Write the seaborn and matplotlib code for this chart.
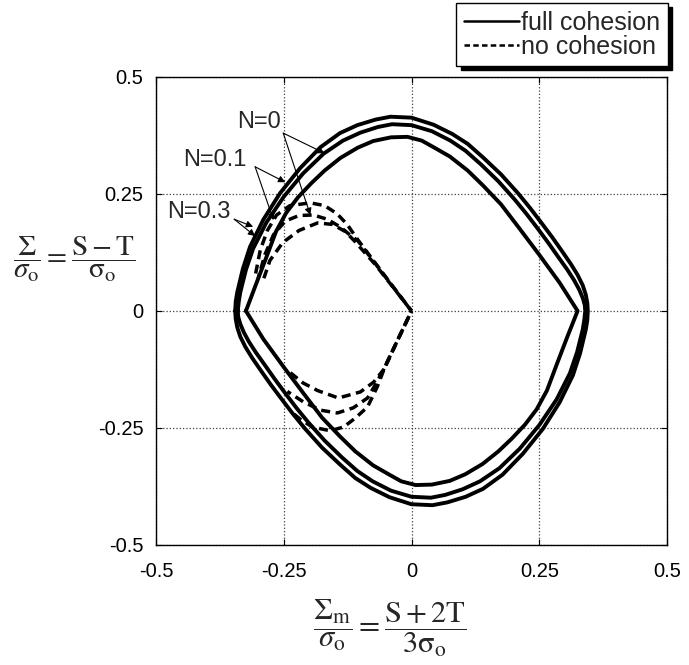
import pandas as pd
import seaborn as sns
import matplotlib.pyplot as plt
from matplotlib.lines import Line2D

# full cohesion yield curves (closed), x = Sigma_m/sigma_o, y = Sigma/sigma_o
n03_x = [-0.345, -0.344, -0.341, -0.330, -0.316, -0.290, -0.257, -0.218, -0.178, -0.140, -0.106, -0.070, -0.041,
         0.000, 0.043, 0.080, 0.110, 0.140, 0.175, 0.208, 0.232, 0.253, 0.275, 0.295, 0.312, 0.325, 0.335,
         0.341, 0.344, 0.345,
         0.344, 0.341, 0.330, 0.316, 0.290, 0.257, 0.218, 0.178, 0.140, 0.106, 0.070, 0.041,
         0.000, -0.043, -0.080, -0.110, -0.140, -0.175, -0.208, -0.232, -0.253, -0.275, -0.295, -0.312, -0.325,
         -0.335, -0.341, -0.344, -0.345]
n03_y = [0.000, 0.020, 0.040, 0.090, 0.137, 0.195, 0.252, 0.305, 0.350, 0.380, 0.397, 0.409, 0.415,
         0.413, 0.398, 0.378, 0.357, 0.328, 0.292, 0.252, 0.220, 0.190, 0.158, 0.127, 0.100, 0.077, 0.055,
         0.035, 0.017, 0.000,
         -0.020, -0.040, -0.090, -0.137, -0.195, -0.252, -0.305, -0.350, -0.380, -0.397, -0.409, -0.415,
         -0.413, -0.398, -0.378, -0.357, -0.328, -0.292, -0.252, -0.220, -0.190, -0.158, -0.127, -0.100, -0.077,
         -0.055, -0.035, -0.017, 0.000]

n01_x = [-0.340, -0.338, -0.335, -0.324, -0.310, -0.284, -0.250, -0.212, -0.172, -0.134, -0.100, -0.066, -0.038,
         0.000, 0.040, 0.076, 0.106, 0.136, 0.170, 0.202, 0.226, 0.247, 0.268, 0.288, 0.305, 0.318, 0.328,
         0.335, 0.339, 0.340,
         0.338, 0.335, 0.324, 0.310, 0.284, 0.250, 0.212, 0.172, 0.134, 0.100, 0.066, 0.038,
         0.000, -0.040, -0.076, -0.106, -0.136, -0.170, -0.202, -0.226, -0.247, -0.268, -0.288, -0.305, -0.318,
         -0.328, -0.335, -0.339, -0.340]
n01_y = [0.000, 0.020, 0.040, 0.088, 0.133, 0.189, 0.244, 0.294, 0.336, 0.364, 0.381, 0.393, 0.399,
         0.397, 0.384, 0.364, 0.342, 0.313, 0.277, 0.238, 0.206, 0.176, 0.145, 0.114, 0.088, 0.066, 0.046,
         0.028, 0.013, 0.000,
         -0.020, -0.040, -0.088, -0.133, -0.189, -0.244, -0.294, -0.336, -0.364, -0.381, -0.393, -0.399,
         -0.397, -0.384, -0.364, -0.342, -0.313, -0.277, -0.238, -0.206, -0.176, -0.145, -0.114, -0.088, -0.066,
         -0.046, -0.028, -0.013, 0.000]

n0_x = [-0.324, -0.305, -0.285, -0.265, -0.245, -0.222, -0.196, -0.170, -0.139, -0.105, -0.075, -0.040,
        -0.008, 0.020, 0.043, 0.075, 0.110, 0.140, 0.175, 0.210, 0.250, 0.290, 0.325,
        0.305, 0.285, 0.265, 0.245, 0.222, 0.196, 0.170, 0.139, 0.105, 0.075, 0.040,
        0.008, -0.020, -0.043, -0.075, -0.110, -0.140, -0.175, -0.210, -0.250, -0.290, -0.324]
n0_y = [0.000, 0.055, 0.112, 0.170, 0.210, 0.243, 0.273, 0.300, 0.327, 0.349, 0.363, 0.371,
        0.372, 0.364, 0.350, 0.330, 0.300, 0.268, 0.228, 0.178, 0.120, 0.060, 0.000,
        -0.055, -0.112, -0.170, -0.210, -0.243, -0.273, -0.300, -0.327, -0.349, -0.363, -0.371,
        -0.372, -0.364, -0.350, -0.330, -0.300, -0.268, -0.228, -0.178, -0.120, -0.060, 0.000]

# no cohesion curves (upper and lower branches ending at the origin)
nc03_up_x = [-0.305, -0.296, -0.282, -0.264, -0.238, -0.198, -0.170, -0.146, -0.126, -0.105, -0.070, -0.035, 0.0]
nc03_up_y = [0.080, 0.130, 0.172, 0.205, 0.225, 0.231, 0.225, 0.208, 0.185, 0.152, 0.101, 0.050, 0.0]
nc01_up_x = [-0.300, -0.287, -0.270, -0.247, -0.220, -0.192, -0.165, -0.140, -0.120, -0.105, -0.070, -0.035, 0.0]
nc01_up_y = [0.070, 0.120, 0.163, 0.192, 0.204, 0.205, 0.196, 0.180, 0.162, 0.150, 0.100, 0.050, 0.0]
nc0_up_x = [-0.292, -0.277, -0.252, -0.220, -0.184, -0.155, -0.130, -0.112, -0.070, -0.035, 0.0]
nc0_up_y = [0.060, 0.108, 0.146, 0.172, 0.188, 0.185, 0.170, 0.150, 0.098, 0.049, 0.0]

nc0_lo_x = [-0.237, -0.212, -0.184, -0.143, -0.100, -0.074, -0.055, -0.027, 0.0]
nc0_lo_y = [-0.132, -0.154, -0.170, -0.186, -0.173, -0.152, -0.126, -0.062, 0.0]
nc01_lo_x = [-0.243, -0.212, -0.178, -0.145, -0.114, -0.086, -0.071, -0.055, -0.027, 0.0]
nc01_lo_y = [-0.172, -0.194, -0.212, -0.218, -0.207, -0.186, -0.158, -0.126, -0.062, 0.0]
nc03_lo_x = [-0.237, -0.218, -0.194, -0.159, -0.133, -0.110, -0.086, -0.067, -0.055, -0.027, 0.0]
nc03_lo_y = [-0.214, -0.231, -0.248, -0.256, -0.248, -0.229, -0.205, -0.162, -0.128, -0.062, 0.0]

ticks = [-0.5, -0.25, 0, 0.25, 0.5]
tick_labels = ['-0.5', '-0.25', '0', '0.25', '0.5']


def seg_frame(xs, ys, name):
    return pd.DataFrame({'x': xs, 'y': ys, 'seg': name})


full = pd.concat([seg_frame(n03_x, n03_y, 'N=0.3'),
                  seg_frame(n01_x, n01_y, 'N=0.1'),
                  seg_frame(n0_x, n0_y, 'N=0')], ignore_index=True)
nocoh = [seg_frame(nc03_up_x, nc03_up_y, 'up 0.3'), seg_frame(nc01_up_x, nc01_up_y, 'up 0.1'),
         seg_frame(nc0_up_x, nc0_up_y, 'up 0'), seg_frame(nc0_lo_x, nc0_lo_y, 'lo 0'),
         seg_frame(nc01_lo_x, nc01_lo_y, 'lo 0.1'), seg_frame(nc03_lo_x, nc03_lo_y, 'lo 0.3')]

sns.set_theme(style="ticks")
plt.rcParams['font.family'] = ['Liberation Sans', 'DejaVu Sans']
plt.rcParams['mathtext.fontset'] = 'stix'

fig = plt.figure(figsize=(6.89, 6.65), dpi=100)
ax = fig.add_axes([0.2264, 0.1805, 0.7417, 0.7038])

sns.lineplot(data=full, x='x', y='y', units='seg', estimator=None, sort=False,
             color='black', lw=2.8, ax=ax)
for i, d in enumerate(nocoh):
    sns.lineplot(data=d, x='x', y='y', estimator=None, sort=False, color='black', lw=2.5,
                 linestyle=(i * 1.4, (2.6, 1.6)), ax=ax)

ax.set_xlim(-0.5, 0.5)
ax.set_ylim(-0.5, 0.5)
ax.set_xticks(ticks)
ax.set_xticklabels(tick_labels)
ax.set_yticks(ticks)
ax.set_yticklabels(tick_labels)
ax.tick_params(direction='in', length=4, width=0.8, labelsize=14.5, colors='black',
               top=True, right=True)
ax.tick_params(axis='x', pad=12)
ax.tick_params(axis='y', pad=9)
ax.grid(True, linestyle=':', linewidth=0.9, color='0.25')
for s in ax.spines.values():
    s.set_color('black')
    s.set_linewidth(1.0)

ax.set_xlabel(r'$\dfrac{\Sigma_{\rm m}}{\sigma_{\rm o}} = \dfrac{\rm S + 2T}{3\sigma_{\rm o}}$',
              fontsize=22, va='center')
ax.xaxis.set_label_coords(0.458, -0.177)
ax.set_ylabel(r'$\dfrac{\Sigma}{\sigma_{\rm o}} = \dfrac{\rm S - T}{\sigma_{\rm o}}$',
              fontsize=21, rotation=0, ha='center', va='center')
ax.yaxis.set_label_coords(-0.160, 0.609)

# curve labels with arrows
arrow = dict(arrowstyle='-|>', color='black', lw=0.8, mutation_scale=10, shrinkA=0, shrinkB=0)
ax.text(-0.298, 0.404, 'N=0', fontsize=17, ha='center', va='center')
ax.annotate('', xy=(-0.170, 0.337), xytext=(-0.251, 0.380), arrowprops=arrow)
ax.annotate('', xy=(-0.198, 0.205), xytext=(-0.251, 0.380), arrowprops=arrow)
ax.text(-0.384, 0.323, 'N=0.1', fontsize=17, ha='center', va='center')
ax.annotate('', xy=(-0.247, 0.275), xytext=(-0.306, 0.308), arrowprops=arrow)
ax.annotate('', xy=(-0.270, 0.194), xytext=(-0.306, 0.308), arrowprops=arrow)
ax.text(-0.416, 0.212, 'N=0.3', fontsize=17, ha='center', va='center')
ax.annotate('', xy=(-0.310, 0.180), xytext=(-0.347, 0.196), arrowprops=arrow)
ax.annotate('', xy=(-0.306, 0.160), xytext=(-0.347, 0.196), arrowprops=arrow)

handles = [Line2D([], [], color='black', lw=1.8),
           Line2D([], [], color='black', lw=1.8, linestyle=(0, (2.2, 1.3)))]
fig.legend(handles, ['full cohesion', 'no cohesion'], loc='upper right',
           bbox_to_anchor=(668 / 689, 1 - 3 / 665), fontsize=18, frameon=True, fancybox=False,
           edgecolor='black', framealpha=1, handlelength=2.2, handletextpad=0.1,
           labelspacing=0.0, borderpad=0.3, borderaxespad=0,
           shadow={'color': 'black', 'alpha': 1, 'ox': 3, 'oy': -3})

fig.savefig('out.png', dpi=100)
